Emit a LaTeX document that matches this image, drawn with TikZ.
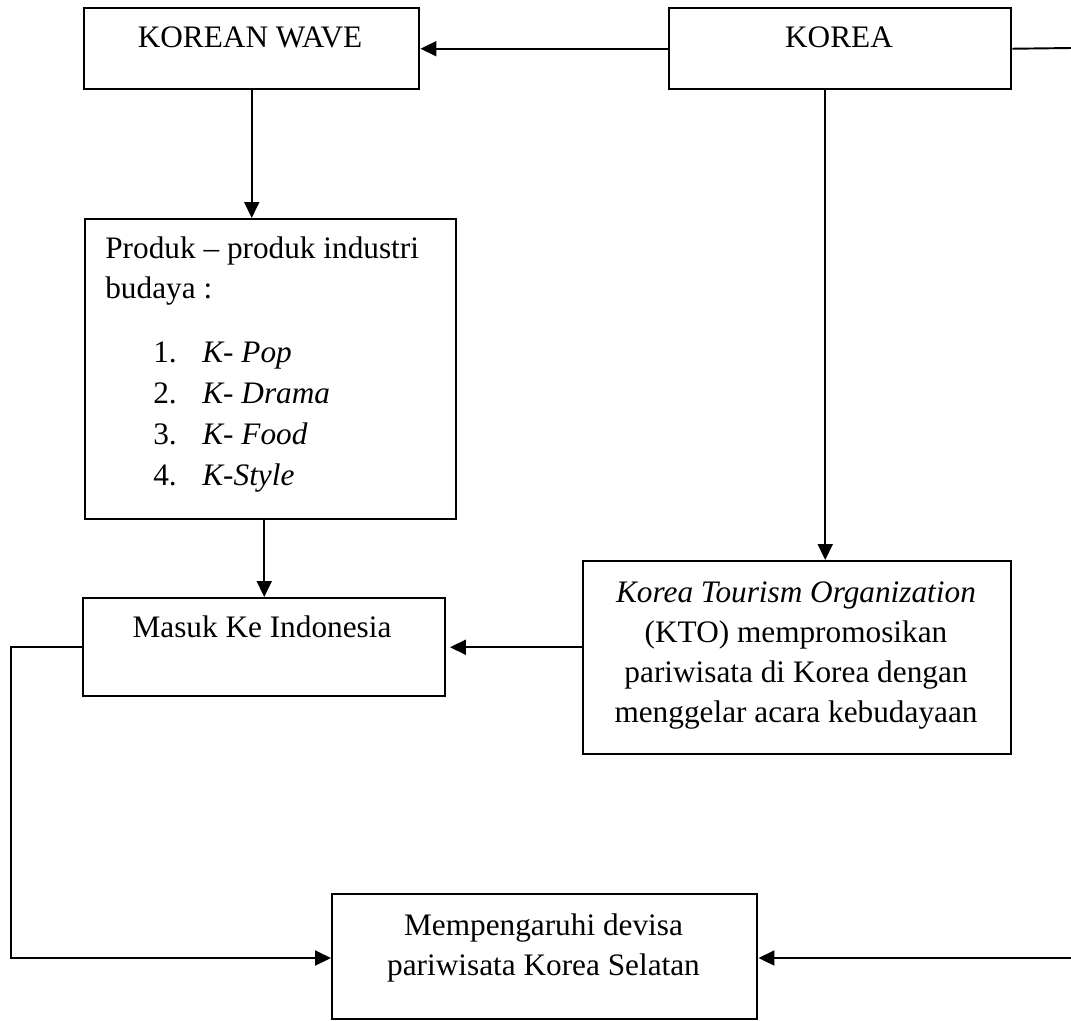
\documentclass[tikz,border=0pt]{standalone}
\usepackage{fontspec}
\setmainfont{Liberation Serif}
\usetikzlibrary{arrows.meta}
\tikzset{
  box/.style={draw, line width=1.4pt, anchor=north west, inner sep=0pt},
  txt/.style={anchor=base, inner sep=0pt, font=\fontsize{17.8}{22}\selectfont},
  arr/.style={-{Triangle[length=0.32cm,width=0.3cm]}, line width=1.1pt},
  link/.style={-, line width=1.1pt}
}
\begin{document}
\begin{tikzpicture}
\useasboundingbox (0,0) rectangle (21.42,-20.4);

\node[box, minimum width=6.7cm, minimum height=1.62cm] (wave) at (1.66,-0.14) {};
\node[box, minimum width=6.84cm, minimum height=1.62cm] (korea) at (13.36,-0.14) {};
\node[box, minimum width=7.42cm, minimum height=6cm] (produk) at (1.68,-4.36) {};
\node[box, minimum width=7.24cm, minimum height=1.96cm] (masuk) at (1.64,-11.94) {};
\node[box, minimum width=8.56cm, minimum height=3.86cm] (kto) at (11.64,-11.2) {};
\node[box, minimum width=8.5cm, minimum height=2.5cm] (devisa) at (6.62,-17.86) {};

\node[txt] (wavetxt) at (5.0,-0.94) {KOREAN WAVE};
\node[txt] (koreatxt) at (16.78,-0.94) {KOREA};

\node[txt, anchor=base west] (prod1) at (2.1,-5.16) {Produk -- produk industri};
\node[txt, anchor=base west] (prod2) at (2.1,-5.96) {budaya :};
\node[txt, anchor=base west] (num1) at (3.06,-7.24) {1.};
\node[txt, anchor=base west] (num2) at (3.06,-8.06) {2.};
\node[txt, anchor=base west] (num3) at (3.06,-8.88) {3.};
\node[txt, anchor=base west] (num4) at (3.06,-9.70) {4.};
\node[txt, anchor=base west] (item1) at (4.04,-7.24) {\itshape K- Pop};
\node[txt, anchor=base west] (item2) at (4.04,-8.06) {\itshape K- Drama};
\node[txt, anchor=base west] (item3) at (4.04,-8.88) {\itshape K- Food};
\node[txt, anchor=base west] (item4) at (4.04,-9.70) {\itshape K-Style};

\node[txt] (masuktxt) at (5.24,-12.74) {Masuk Ke Indonesia};

\node[txt] (kto1) at (15.92,-12.04) {\itshape Korea Tourism Organization};
\node[txt] (kto2) at (15.92,-12.84) {(KTO) mempromosikan};
\node[txt] (kto3) at (15.92,-13.64) {pariwisata di Korea dengan};
\node[txt] (kto4) at (15.92,-14.44) {menggelar acara kebudayaan};

\node[txt] (dev1) at (10.87,-18.7) {Mempengaruhi devisa};
\node[txt] (dev2) at (10.87,-19.5) {pariwisata Korea Selatan};

\coordinate (rtop) at (21.42,-0.96);
\coordinate (rbot) at (21.42,-19.16);
\coordinate (lbot) at (0.22,-19.16);

\draw[arr] (korea.west) -- (wave.east);
\draw[link] (korea.east) -- (rtop);
\draw[arr] (rbot) -- (rbot -| devisa.east);
\draw[arr] (wave.south) -- (wave.south |- produk.north);
\draw[arr] (masuk.north |- produk.south) -- (masuk.north);
\draw[arr] ([xshift=-0.3cm]korea.south) -- ([xshift=-0.3cm]korea.south |- kto.north);
\draw[arr] (kto.west |- masuk.east) -- ([xshift=2pt]masuk.east);
\draw[arr] (masuk.west) -| (lbot) -- (lbot -| devisa.west);

\end{tikzpicture}
\end{document}
